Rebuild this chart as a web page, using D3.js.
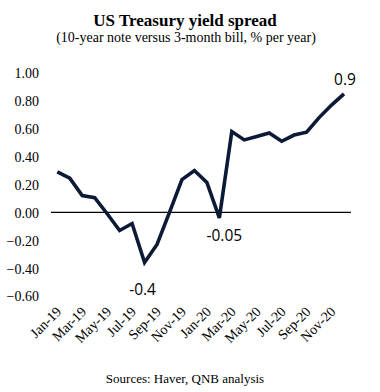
<!DOCTYPE html>
<html><head><meta charset="utf-8">
<script src="https://cdn.jsdelivr.net/npm/d3@7"></script>
<style>body{margin:0;background:#fff}svg{display:block}</style>
</head><body>
<svg id="c" width="380" height="392"></svg>
<script>
const months = ["Jan-19","Feb-19","Mar-19","Apr-19","May-19","Jun-19","Jul-19","Aug-19","Sep-19","Oct-19","Nov-19","Dec-19",
  "Jan-20","Feb-20","Mar-20","Apr-20","May-20","Jun-20","Jul-20","Aug-20","Sep-20","Oct-20","Nov-20","Dec-20"];
const spread = [0.29,0.245,0.12,0.105,-0.01,-0.13,-0.08,-0.36,-0.23,0.0,0.235,0.30,0.215,-0.04,0.58,0.52,0.545,0.57,0.51,0.555,0.575,0.68,0.77,0.85];
const yTicks = [1.0,0.8,0.6,0.4,0.2,0.0,-0.2,-0.4,-0.6];
const xTickLabels = ["Jan-19","Mar-19","May-19","Jul-19","Sep-19","Nov-19","Jan-20","Mar-20","May-20","Jul-20","Sep-20","Nov-20"];
const callouts = [{m:"Aug-19", text:"-0.4", dx:-2, dy:32},{m:"Feb-20", text:"-0.05", dx:5, dy:23},{m:"Dec-20", text:"0.9", dx:1, dy:-9}];

const svg = d3.select("#c");
const serif = "'Liberation Serif','Times New Roman',serif";
const sans = "'Open Sans','Noto Sans',sans-serif";

const x = d3.scalePoint().domain(months).range([57.3, 344]);
const y = d3.scaleLinear().domain([-0.6, 1.0]).range([296, 73]);

svg.append("text").attr("x",185).attr("y",26).attr("text-anchor","middle")
  .style("font-family",serif).style("font-weight","bold").style("font-size","17px").text("US Treasury yield spread");
svg.append("text").attr("x",186).attr("y",42).attr("text-anchor","middle")
  .style("font-family",serif).style("font-size","14px").text("(10-year note versus 3-month bill, % per year)");

// y axis labels
const yAxis = d3.axisLeft(y).tickValues(yTicks).tickFormat(d3.format(".2f")).tickSize(0).tickPadding(0);
const ga = svg.append("g").attr("transform","translate(39,0)").call(yAxis);
ga.select(".domain").remove();
ga.selectAll("text").style("font-family",serif).style("font-size","14px").attr("fill","#000").attr("dy","0.35em");

// zero line
svg.append("line").attr("x1",51).attr("x2",351).attr("y1",y(0)).attr("y2",y(0))
  .attr("stroke","#000").attr("stroke-width",1.2);

// x labels
const xAxis = d3.axisBottom(x).tickValues(xTickLabels).tickSize(0).tickPadding(0);
const gx = svg.append("g").attr("transform","translate(1,309)").call(xAxis);
gx.select(".domain").remove();
gx.selectAll("text").style("font-family",serif).style("font-size","14px").attr("fill","#000")
  .attr("text-anchor","end").attr("y",0).attr("dy","0.35em").attr("transform","rotate(-45)");

// line
const line = d3.line().x((d,i)=>x(months[i])).y(d=>y(d));
svg.append("path").datum(spread).attr("d",line).attr("fill","none")
  .attr("stroke","#0c1a36").attr("stroke-width",3.6).attr("stroke-linejoin","miter");

// callouts
svg.selectAll(".co").data(callouts).enter().append("text")
  .attr("x",d=>x(d.m)+d.dx).attr("y",d=>y(spread[months.indexOf(d.m)])+d.dy)
  .attr("text-anchor","middle").style("font-family",sans).style("font-size","15.5px").attr("fill","#000")
  .text(d=>d.text);

svg.append("text").attr("x",185).attr("y",383).attr("text-anchor","middle")
  .style("font-family",serif).style("font-size","13px").text("Sources: Haver, QNB analysis");
</script>
</body></html>
